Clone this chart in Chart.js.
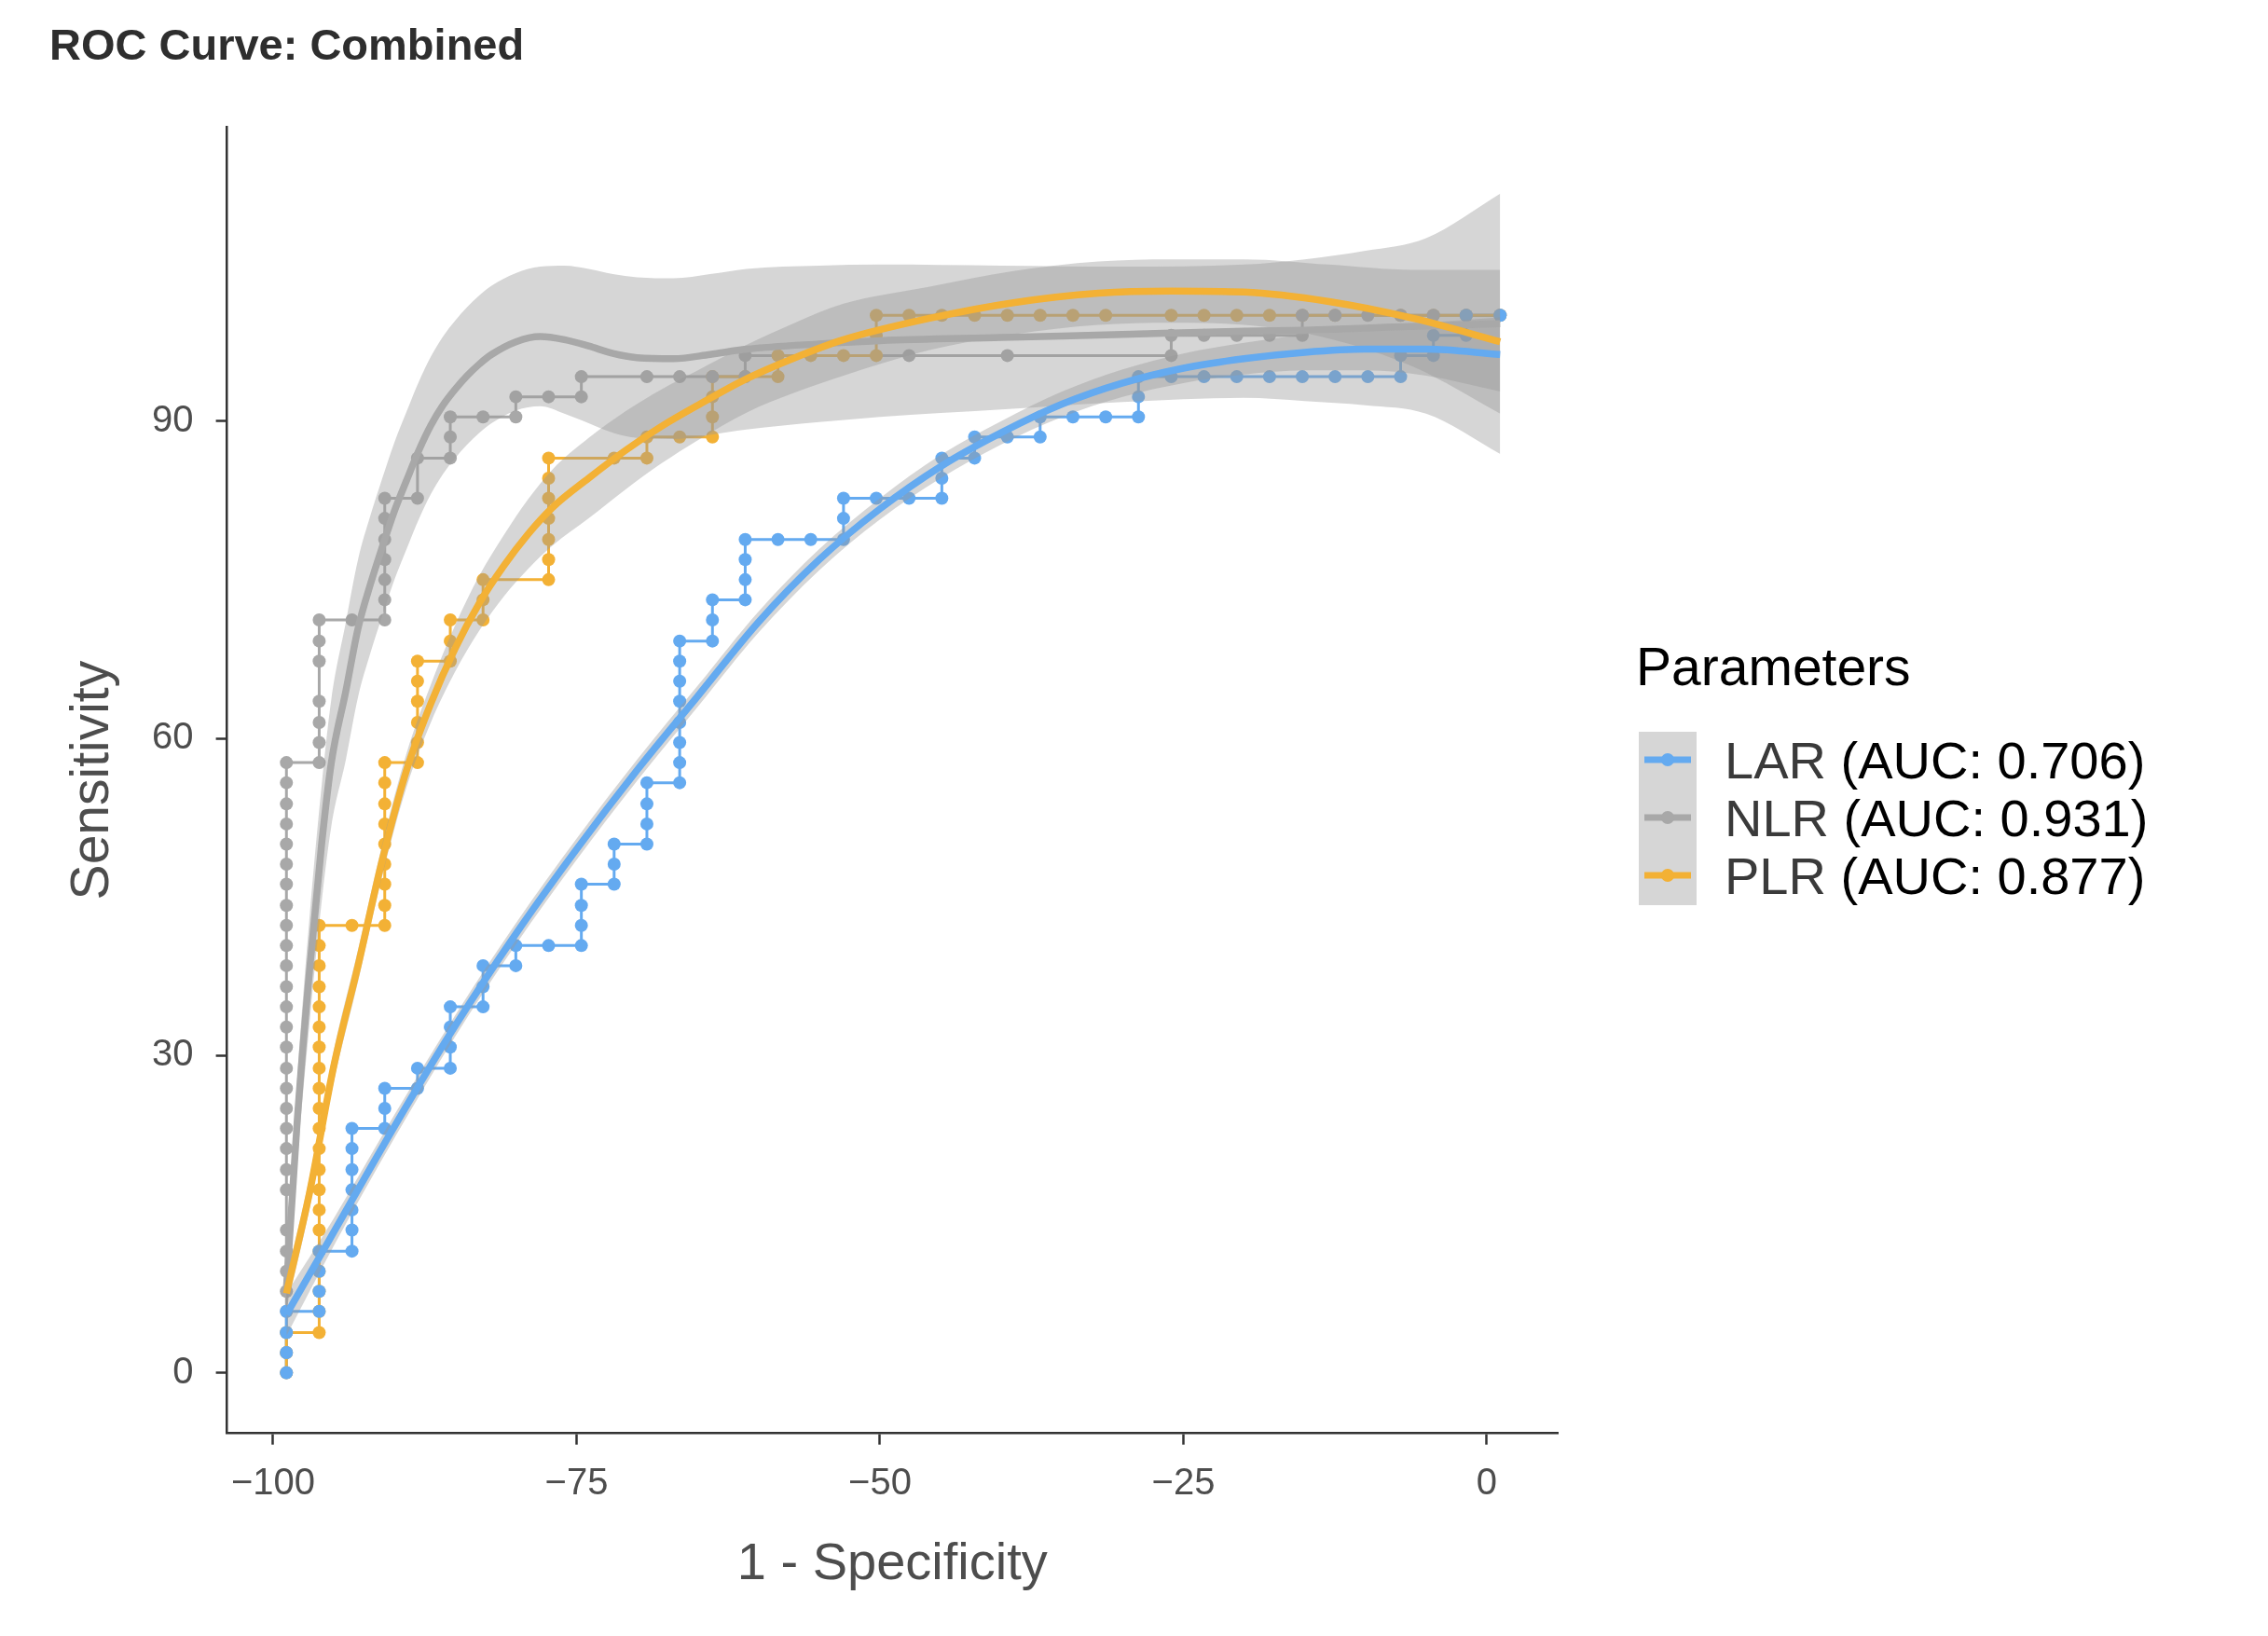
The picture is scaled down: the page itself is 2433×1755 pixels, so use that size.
<!DOCTYPE html>
<html>
<head>
<meta charset="utf-8">
<title>ROC Curve: Combined</title>
<script src="https://cdn.jsdelivr.net/npm/chart.js@4.4.1/dist/chart.umd.min.js"></script>
<style>
  html, body { margin: 0; padding: 0; background: #fff; }
</style>
</head>
<body>
<canvas id="roc" width="2433" height="1755"></canvas>
<script>
// --- labels ---
const chartTitle = 'ROC Curve: Combined';
const legendTitle = 'Parameters';
const seriesNames = ['LAR', 'NLR', 'PLR'];
const aucLabels = ['(AUC: 0.706)', '(AUC: 0.931)', '(AUC: 0.877)'];
const seriesColors = ['#64aaf0', '#a8a8a8', '#f3b135'];
const xTicks = [-100, -75, -50, -25, 0];
const yTicks = [0, 30, 60, 90];

// --- ROC steps (1 - specificity, sensitivity) ---
const larX = [-98.9,-98.9,-98.9,-98.9,-96.2,-96.2,-96.2,-96.2,-93.5,-93.5,-93.5,-93.5,-93.5,-93.5,-93.5,
  -90.8,-90.8,-90.8,-88.1,-88.1,-85.4,-85.4,-85.4,-85.4,-82.7,-82.7,-82.7,-80.0,-80.0,-77.3,
  -74.6,-74.6,-74.6,-74.6,-71.9,-71.9,-71.9,-69.2,-69.2,-69.2,-69.2,
  -66.5,-66.5,-66.5,-66.5,-66.5,-66.5,-66.5,-66.5,-63.8,-63.8,-63.8,-61.1,-61.1,-61.1,-61.1,
  -58.4,-55.7,-53.0,-53.0,-53.0,-50.3,-47.6,-44.9,-44.9,-44.9,-42.2,-42.2,-39.5,-36.8,-36.8,
  -34.1,-31.4,-28.7,-28.7,-28.7,-26.0,-23.3,-20.6,-17.9,-15.2,-12.5,-9.8,-7.1,-7.1,-4.4,-4.4,-1.7,-1.7,1.1];
const larY = [0,1.9,3.8,5.8,5.8,7.7,9.6,11.5,11.5,13.5,15.4,17.3,19.2,21.2,23.1,
  23.1,25.0,26.9,26.9,28.8,28.8,30.8,32.7,34.6,34.6,36.5,38.5,38.5,40.4,40.4,
  40.4,42.3,44.2,46.2,46.2,48.1,50.0,50.0,51.9,53.8,55.8,
  55.8,57.7,59.6,61.5,63.5,65.4,67.3,69.2,69.2,71.2,73.1,73.1,75.0,76.9,78.8,
  78.8,78.8,78.8,80.8,82.7,82.7,82.7,82.7,84.6,86.5,86.5,88.5,88.5,88.5,90.4,
  90.4,90.4,90.4,92.3,94.2,94.2,94.2,94.2,94.2,94.2,94.2,94.2,94.2,96.2,96.2,98.1,98.1,100,100];

const nlrX = [-98.9,-98.9,-98.9,-98.9,-98.9,-98.9,-98.9,-98.9,-98.9,-98.9,-98.9,-98.9,-98.9,-98.9,-98.9,
  -98.9,-98.9,-98.9,-98.9,-98.9,-98.9,-98.9,-98.9,-98.9,-98.9,-98.9,-98.9,-98.9,-98.9,-98.9,
  -96.2,-96.2,-96.2,-96.2,-96.2,-96.2,-96.2,
  -93.5,-90.8,-90.8,-90.8,-90.8,-90.8,-90.8,-90.8,
  -88.1,-88.1,-85.4,-85.4,-85.4,-82.7,-80.0,-80.0,-77.3,-74.6,-74.6,
  -69.2,-66.5,-63.8,-61.1,-61.1,-47.6,-39.5,-26.0,-26.0,
  -23.3,-20.6,-17.9,-15.2,-15.2,-12.5,-9.8,-7.1,-4.4,-1.7,1.1];
const nlrY = [0,1.9,3.8,5.8,7.7,9.6,11.5,13.5,17.3,19.2,21.2,23.1,25.0,26.9,28.8,
  30.8,32.7,34.6,36.5,38.5,40.4,42.3,44.2,46.2,48.1,50.0,51.9,53.8,55.8,57.7,
  57.7,59.6,61.5,63.5,67.3,69.2,71.2,
  71.2,71.2,73.1,75.0,76.9,78.8,80.8,82.7,
  82.7,86.5,86.5,88.5,90.4,90.4,90.4,92.3,92.3,92.3,94.2,
  94.2,94.2,94.2,94.2,96.2,96.2,96.2,96.2,98.1,
  98.1,98.1,98.1,98.1,100,100,100,100,100,100,100];

const plrX = [-98.9,-98.9,-98.9,
  -96.2,-96.2,-96.2,-96.2,-96.2,-96.2,-96.2,-96.2,-96.2,-96.2,-96.2,-96.2,-96.2,-96.2,-96.2,-96.2,-96.2,-96.2,-96.2,-96.2,-96.2,
  -93.5,-90.8,-90.8,-90.8,-90.8,-90.8,-90.8,-90.8,-90.8,-90.8,
  -88.1,-88.1,-88.1,-88.1,-88.1,-88.1,-85.4,-85.4,-85.4,-82.7,-82.7,-82.7,
  -77.3,-77.3,-77.3,-77.3,-77.3,-77.3,-77.3,-71.9,-69.2,-69.2,
  -66.5,-63.8,-63.8,-63.8,-63.8,-61.1,-58.4,-58.4,-55.7,-53.0,-50.3,-50.3,-50.3,
  -47.6,-44.9,-42.2,-39.5,-36.8,-34.1,-31.4,-26.0,-23.3,-20.6,-17.9,-15.2,-12.5,-7.1,-4.4,-1.7,1.1];
const plrY = [0,1.9,3.8,
  3.8,5.8,7.7,9.6,11.5,13.5,15.4,17.3,19.2,21.2,23.1,25.0,26.9,28.8,30.8,32.7,34.6,36.5,38.5,40.4,42.3,
  42.3,42.3,44.2,46.2,48.1,50.0,51.9,53.8,55.8,57.7,
  57.7,59.6,61.5,63.5,65.4,67.3,67.3,69.2,71.2,71.2,73.1,75.0,
  75.0,76.9,78.8,80.8,82.7,84.6,86.5,86.5,86.5,88.5,
  88.5,88.5,90.4,92.3,94.2,94.2,94.2,96.2,96.2,96.2,96.2,98.1,100,
  100,100,100,100,100,100,100,100,100,100,100,100,100,100,100,100,100];

// --- smoothed fits with confidence bands ---
const nlrFitX = [-98.9,-98,-97,-96,-95.2,-94,-93,-92,-91,-90,-89,-88,-87,-86,-85,-84,-83,-82,-80,-78,
  -76,-74,-72,-70,-67,-64,-61,-55,-50,-40,-30,-20,-15,-10,-5,1.1];
const nlrFit = [8,24,38,50,57.7,64.5,70.4,74.5,78.1,81.5,84.4,87.2,89.6,91.5,93.0,94.3,95.4,96.3,97.5,98.0,
  97.7,97.1,96.4,96.0,95.9,96.3,96.8,97.3,97.6,97.9,98.2,98.5,98.6,98.8,99.0,99.2];
const nlrLo = [5.5,20,33,44.5,51.7,58,63.9,68,71.6,75,77.9,80.7,83.1,85,86.5,87.8,88.9,89.8,91.0,91.4,
  90.7,89.8,88.9,88.4,88.3,88.7,89.2,89.9,90.4,91.1,91.8,92.2,91.9,91.5,90.7,86.9];
const nlrHi = [10.5,28,43,55.5,63.7,71,76.9,81,84.6,88,90.9,93.7,96.1,98,99.5,100.8,101.9,102.8,104.0,104.6,
  104.7,104.4,103.9,103.6,103.5,103.9,104.4,104.7,104.8,104.7,104.6,104.8,105.3,106.1,107.3,111.5];

const larFitX = [-98.9,-95,-90,-85,-80,-75,-70,-65,-60,-55,-50,-45,-40,-35,-30,-25,-20,-15,-10,-5,1.1];
const larFit = [5.5,13.3,23.3,32.8,41.5,49.5,57.0,64.0,71.0,76.9,81.7,85.7,88.9,91.6,93.6,95.0,95.9,96.5,96.8,96.8,96.3];
const larLo = [3.5,12.0,22.2,31.8,40.5,48.5,56.0,63.0,70.0,75.9,80.7,84.6,87.8,90.4,92.3,93.6,94.4,94.8,94.8,94.3,92.8];
const larHi = [7.5,14.6,24.4,33.8,42.5,50.5,58.0,65.0,72.0,77.9,82.7,86.8,90.0,92.8,94.9,96.4,97.4,98.2,98.8,99.3,99.8];

const plrFitX = [-98.9,-97,-95,-93,-91,-89,-87,-85,-83,-81,-79,-77,-74,-71,-68,-65,-61,-57,-53,-46,-39,-32,-26,-20,-13,-6,1.1];
const plrFit = [7.5,17,29,38.5,48.5,57,63.3,68.5,72.8,76.3,79.3,81.8,84.6,87.2,89.5,91.5,94.0,96.0,97.7,99.7,101.2,102.1,102.3,102.2,101.3,99.7,97.5];
const plrLo = [6,15.5,27.5,37,47,55.4,61.5,66.3,70.2,73.4,76.0,78.2,80.8,83.5,86.0,88.2,90.8,92.7,94.3,96.7,98.2,99.1,99.3,99.1,97.8,95.1,90.7];
const plrHi = [9,18.5,30.5,40,50,58.6,65.1,70.7,75.4,79.2,82.6,85.4,88.4,90.9,93.0,94.8,97.2,99.3,101.1,102.7,104.2,105.1,105.3,105.3,104.8,104.3,104.3];

const FONT = '"Liberation Sans", Arial, Helvetica, sans-serif';
const bandFill = 'rgba(153,153,153,0.4)';
const [blue, grey, orange] = seriesColors;

const pts = (xs, ys) => xs.map((x, i) => ({x: x, y: ys[i]}));

function stepLine(xs, ys, color, order) {
  return { data: pts(xs, ys), borderColor: color, borderWidth: 3, pointRadius: 0, tension: 0, order: order };
}
function stepPoints(xs, ys, color, order) {
  return { data: pts(xs, ys), showLine: false, pointRadius: 7, pointBorderWidth: 0,
    pointBackgroundColor: color, borderColor: color, order: order };
}
function bandEdge(xs, ys, order, fill) {
  return { data: pts(xs, ys), borderColor: 'rgba(0,0,0,0)', borderWidth: 0, pointRadius: 0,
    cubicInterpolationMode: 'monotone', fill: fill, backgroundColor: bandFill, order: order };
}
function fitLine(xs, ys, color, order) {
  return { data: pts(xs, ys), borderColor: color, borderWidth: 7.5, pointRadius: 0,
    cubicInterpolationMode: 'monotone', order: order };
}

const datasets = [
  stepLine(nlrX, nlrY, grey, 100),
  stepLine(larX, larY, blue, 99),
  stepLine(plrX, plrY, orange, 98),
  stepPoints(plrX, plrY, orange, 97),
  stepPoints(nlrX, nlrY, grey, 96),
  stepPoints(larX, larY, blue, 95),
  bandEdge(larFitX, larLo, 60, false),
  bandEdge(larFitX, larHi, 60, '-1'),
  bandEdge(nlrFitX, nlrLo, 59, false),
  bandEdge(nlrFitX, nlrHi, 59, '-1'),
  bandEdge(plrFitX, plrLo, 58, false),
  bandEdge(plrFitX, plrHi, 58, '-1'),
  fitLine(nlrFitX, nlrFit, grey, 12),
  fitLine(larFitX, larFit, blue, 11),
  fitLine(plrFitX, plrFit, orange, 10)
];

// title + legend drawn on top
const decor = {
  id: 'decor',
  afterDraw(chart) {
    const ctx = chart.ctx;
    ctx.save();
    ctx.textBaseline = 'alphabetic';
    ctx.textAlign = 'left';
    ctx.fillStyle = '#2e2e2e';
    ctx.font = 'bold 47px ' + FONT;
    ctx.fillText(chartTitle, 53, 64);

    ctx.fillStyle = '#000';
    ctx.font = '57px ' + FONT;
    ctx.fillText(legendTitle, 1755, 735);

    ctx.fillStyle = '#d6d6d6';
    ctx.fillRect(1758, 785, 62, 186);
    ctx.font = '56px ' + FONT;
    seriesNames.forEach((name, i) => {
      const cy = 815 + i * 62;
      ctx.strokeStyle = seriesColors[i];
      ctx.lineWidth = 7;
      ctx.beginPath();
      ctx.moveTo(1764, cy);
      ctx.lineTo(1814, cy);
      ctx.stroke();
      ctx.fillStyle = seriesColors[i];
      ctx.beginPath();
      ctx.arc(1789, cy, 7, 0, Math.PI * 2);
      ctx.fill();
      ctx.fillStyle = '#3a3a3a';
      ctx.fillText(name, 1850, cy + 20);
      const w = ctx.measureText(name + ' ').width;
      ctx.fillStyle = '#000';
      ctx.fillText(aucLabels[i], 1850 + w, cy + 20);
    });
    ctx.restore();
  }
};

const minus = v => String(v).replace('-', '\u2212');

new Chart(document.getElementById('roc'), {
  type: 'line',
  data: { datasets: datasets },
  options: {
    responsive: false,
    animation: false,
    devicePixelRatio: 1,
    layout: { padding: { left: 0, top: 136.5, right: 762, bottom: 0 } },
    plugins: {
      legend: { display: false },
      tooltip: { enabled: false },
      title: { display: false }
    },
    scales: {
      x: {
        type: 'linear',
        min: -103.79,
        max: 5.84,
        afterFit: s => { s.height = 217.3; },
        afterBuildTicks: s => { s.ticks = xTicks.map(v => ({value: v})); },
        grid: { drawOnChartArea: false, drawTicks: true, tickLength: 12, tickWidth: 2.5, tickColor: '#333' },
        border: { display: true, color: '#333', width: 2.5 },
        ticks: { font: { family: FONT, size: 40 }, color: '#4d4d4d', padding: 18, autoSkip: false, maxRotation: 0, callback: minus },
        title: { display: true, text: '1 - Specificity', color: '#4d4d4d', font: { family: FONT, size: 56 }, padding: { top: 0, bottom: 43 } }
      },
      y: {
        type: 'linear',
        min: -5.74,
        max: 117.79,
        afterFit: s => { s.width = 243.6; },
        afterBuildTicks: s => { s.ticks = yTicks.map(v => ({value: v})); },
        grid: { drawOnChartArea: false, drawTicks: true, tickLength: 12, tickWidth: 2.5, tickColor: '#333' },
        border: { display: true, color: '#333', width: 2.5 },
        ticks: { font: { family: FONT, size: 40 }, color: '#4d4d4d', padding: 24, callback: minus },
        title: { display: true, text: 'Sensitivity', color: '#4d4d4d', font: { family: FONT, size: 57 }, padding: { top: 66, bottom: 0 } }
      }
    }
  },
  plugins: [decor]
});
</script>
</body>
</html>
